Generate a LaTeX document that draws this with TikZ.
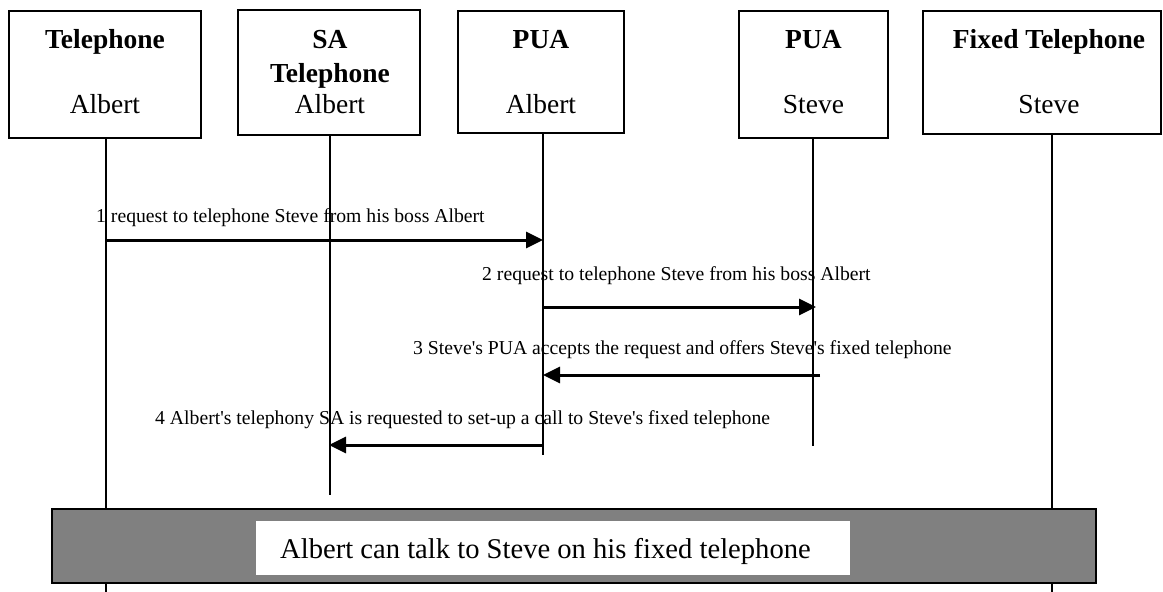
\documentclass[tikz,border=0pt]{standalone}
\usepackage{fontspec}
\setmainfont{Liberation Serif}
\usetikzlibrary{arrows.meta}
\definecolor{bargray}{HTML}{808080}
\newcommand{\sq}{\textquotesingle}
\begin{document}
\begin{tikzpicture}[x=1pt,y=-1pt,
  hdr/.style={draw, line width=1.5pt, inner sep=0pt, outer sep=0pt},
  htxt/.style={anchor=base, inner sep=0pt, font=\fontsize{27.5}{30}\selectfont},
  btxt/.style={anchor=base, inner sep=0pt, font=\bfseries\fontsize{27.5}{30}\selectfont},
  life/.style={line width=1.3pt},
  msg/.style={line width=3pt, -{Triangle[length=17pt,width=16pt]}},
  lbl/.style={anchor=base west, inner sep=0pt, font=\fontsize{19.7}{22}\selectfont},
]
\useasboundingbox (0,0) rectangle (1163,592);
% header boxes
\node[hdr, minimum width=192pt, minimum height=127pt] (b1) at (105,74.5) {};
\node[hdr, minimum width=182pt, minimum height=125pt] (b2) at (329,72.5) {};
\node[hdr, minimum width=166pt, minimum height=122pt] (b3) at (541,72) {};
\node[hdr, minimum width=149pt, minimum height=127pt] (b4) at (813.5,74.5) {};
\node[hdr, minimum width=238pt, minimum height=123pt] (b5) at (1042,72.5) {};
% header texts
\node[btxt] (t1a) at (105,48) {Telephone};
\node[htxt] (t1b) at (105,113) {Albert};
\node[btxt] (t2a) at (330,48) {SA};
\node[btxt] (t2b) at (330,82) {Telephone};
\node[htxt] (t2c) at (330,113) {Albert};
\node[btxt] (t3a) at (541,48) {PUA};
\node[htxt] (t3b) at (541,113) {Albert};
\node[btxt] (t4a) at (813.5,48) {PUA};
\node[htxt] (t4b) at (813.5,113) {Steve};
\node[btxt] (t5a) at (1049,48) {Fixed Telephone};
\node[htxt] (t5b) at (1049,113) {Steve};
% lifelines
\coordinate (s1) at (106,138);  \coordinate (e1) at (106,592);
\coordinate (s2) at (330,135);  \coordinate (e2) at (330,495);
\coordinate (s3) at (543,133);  \coordinate (e3) at (543,455);
\coordinate (s4) at (813,138);  \coordinate (e4) at (813,446);
\coordinate (s5) at (1052,134); \coordinate (e5) at (1052,592);
\draw[life] (s1) -- (e1);
\draw[life] (s2) -- (e2);
\draw[life] (s3) -- (e3);
\draw[life] (s4) -- (e4);
\draw[life] (s5) -- (e5);
% messages
\coordinate (m1a) at (105,240);   \coordinate (m1b) at (543,240);
\coordinate (m2a) at (542,307);   \coordinate (m2b) at (816,307);
\coordinate (m3a) at (820,375);   \coordinate (m3b) at (543,375);
\coordinate (m4a) at (543,445);   \coordinate (m4b) at (329,445);
\draw[msg] (m1a) -- (m1b);
\draw[msg] (m2a) -- (m2b);
\draw[msg] (m3a) -- (m3b);
\draw[msg] (m4a) -- (m4b);
\node[lbl] (l1) at (96,222) {1 request to telephone Steve from his boss Albert};
\node[lbl] (l2) at (482,280) {2 request to telephone Steve from his boss Albert};
\node[lbl] (l3) at (413,354) {3 Steve\sq s PUA accepts the request and offers Steve\sq s fixed telephone};
\node[lbl] (l4) at (155,424) {4 Albert\sq s telephony SA is requested to set-up a call to Steve\sq s fixed telephone};
% bottom bar
\node[draw, line width=1.8pt, fill=bargray, minimum width=1044pt, minimum height=74pt, inner sep=0pt] (bar) at (574,546) {};
\node[fill=white, minimum width=594pt, minimum height=54pt, inner sep=0pt] (note) at (553,548) {};
\node[anchor=base west, inner sep=0pt, font=\fontsize{28.6}{32}\selectfont] (notetxt) at (280,558) {Albert can talk to Steve on his fixed telephone};
\end{tikzpicture}
\end{document}
